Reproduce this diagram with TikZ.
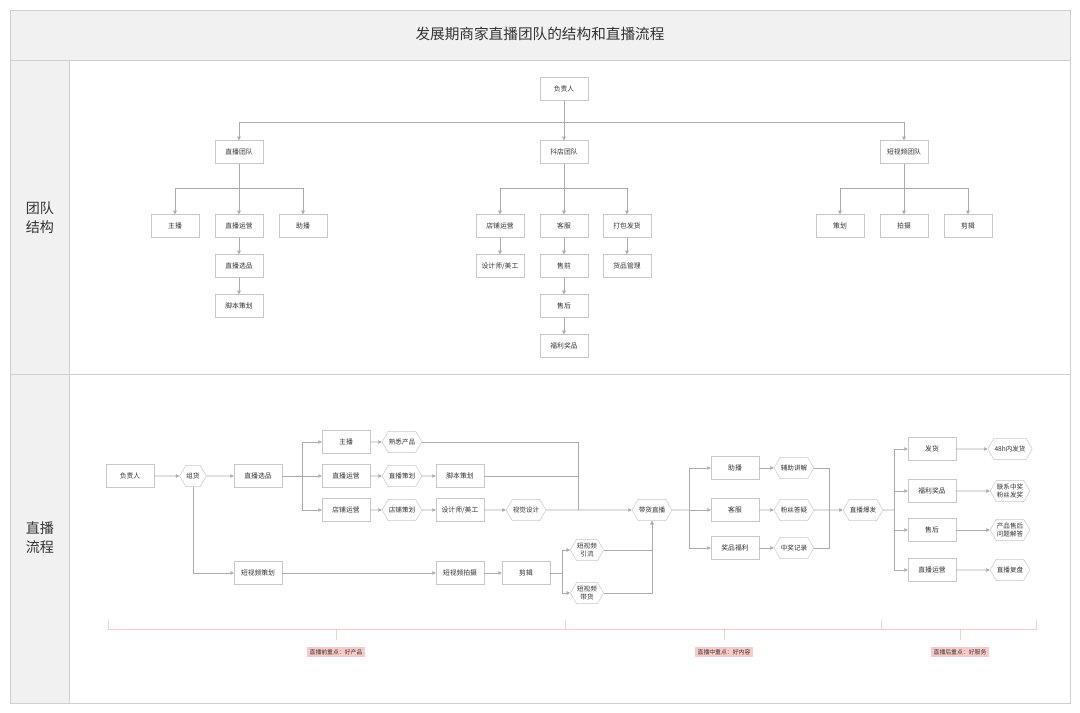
\documentclass[tikz,border=0pt]{standalone}
\usepackage{fontspec}
\setmainfont{Noto Sans CJK SC}
\usepackage{xcolor}
\usetikzlibrary{arrows.meta, shapes.symbols}
\definecolor{framegray}{HTML}{CFCFCF}
\definecolor{bandgray}{HTML}{F1F1F1}
\definecolor{boxgray}{HTML}{C8C8C8}
\definecolor{linegray}{HTML}{ABABAB}
\definecolor{textgray}{HTML}{333333}
\definecolor{tagpink}{HTML}{F9CACA}
\definecolor{brkpink}{HTML}{F5CFCF}

\begin{document}
\begin{tikzpicture}[x=0.03cm, y=-0.03cm,
    box/.style={draw=boxgray, fill=white, minimum width=1.44cm, minimum height=0.69cm,
      inner sep=1pt, text=textgray, font=\fontsize{5.8}{7}\selectfont},
    hexa/.style={signal, signal to=east and west, signal pointer angle=120,
      draw=boxgray, fill=white, minimum height=0.64cm, inner xsep=0.5pt, inner ysep=1pt,
      align=center, text=textgray, font=\fontsize{5.6}{6.4}\selectfont},
    link/.style={draw=linegray, line width=0.5pt},
    arr/.style={link, -{Triangle[length=3pt,width=3pt]}},
    brk/.style={draw=brkpink, line width=0.6pt},
    tag/.style={fill=tagpink, inner xsep=2pt, inner ysep=1.6pt, text=textgray,
      font=\fontsize{5}{6}\selectfont},
    side/.style={align=center, text=textgray, font=\fontsize{12}{16}\selectfont},
    title/.style={text=textgray, font=\fontsize{12.5}{14}\selectfont}]

        \useasboundingbox (0,0) rectangle (1080,713);

        % Frame, title band and row headers
        \fill[bandgray] (10,10) rectangle (1070,60);
        \fill[bandgray] (10,60) rectangle (69,703);
        \draw[framegray] (10,10) rectangle (1070,703);
        \draw[framegray] (10,60) -- (1070,60);
        \draw[framegray] (69,60) -- (69,703);
        \draw[framegray] (10,374) -- (1070,374);
        \node[title] (head) at (540,34) {发展期商家直播团队的结构和直播流程};
        \node[side] (rowA) at (40,218) {团队\\结构};
        \node[side] (rowB) at (40,538) {直播\\流程};

        % Team structure: top level
        \node[box] (lead) at (564,89) {负责人};
        \node[box] (liveT) at (239,152) {直播团队};
        \node[box] (shopT) at (564,152) {抖店团队};
        \node[box] (vidT) at (904,152) {短视频团队};
        \coordinate (barA) at (564,122);
        \draw[arr] (lead) -- (shopT);
        \draw[arr] (barA) -| (liveT.north);
        \draw[arr] (barA) -| (vidT.north);

        % Live team
        \node[box] (anchor) at (175,226) {主播};
        \node[box] (liveOps) at (239,226) {直播运营};
        \node[box] (assist) at (303,226) {助播};
        \node[box] (pick) at (239,266) {直播选品};
        \node[box] (script) at (239,306) {脚本策划};
        \coordinate (barB) at (239,188);
        \draw[arr] (liveT) -- (liveOps);
        \draw[arr] (barB) -| (anchor.north);
        \draw[arr] (barB) -| (assist.north);
        \draw[arr] (liveOps) -- (pick);
        \draw[arr] (pick) -- (script);

        % Shop team
        \node[box] (shopOps) at (500,226) {店铺运营};
        \node[box] (service) at (564,226) {客服};
        \node[box] (pack) at (627,226) {打包发货};
        \node[box] (design) at (500,266) {设计师/美工};
        \node[box] (pre) at (564,266) {售前};
        \node[box] (post) at (564,306) {售后};
        \node[box] (gift) at (564,346) {福利奖品};
        \node[box] (goods) at (627,266) {货品管理};
        \coordinate (barC) at (564,188);
        \draw[arr] (shopT) -- (service);
        \draw[arr] (barC) -| (shopOps.north);
        \draw[arr] (barC) -| (pack.north);
        \draw[arr] (shopOps) -- (design);
        \draw[arr] (service) -- (pre);
        \draw[arr] (pre) -- (post);
        \draw[arr] (post) -- (gift);
        \draw[arr] (pack) -- (goods);

        % Short video team
        \node[box] (plan) at (840,226) {策划};
        \node[box] (shoot) at (904,226) {拍摄};
        \node[box] (edit) at (968,226) {剪辑};
        \coordinate (barD) at (904,188);
        \draw[arr] (vidT) -- (shoot);
        \draw[arr] (barD) -| (plan.north);
        \draw[arr] (barD) -| (edit.north);

        % Live flow: before the stream
        \node[box] (fLead) at (130,476) {负责人};
        \node[hexa] (fGroup) at (193,476) {组货};
        \node[box] (fPick) at (258,476) {直播选品};
        \node[box] (fAnchor) at (346,442) {主播};
        \node[box] (fOps) at (346,476) {直播运营};
        \node[box] (fShop) at (346,510) {店铺运营};
        \node[hexa] (fKnow) at (402,442) {熟悉产品};
        \node[hexa] (fPlan) at (402,476) {直播策划};
        \node[hexa] (fShopPlan) at (402,510) {店铺策划};
        \node[box] (fScript) at (460,476) {脚本策划};
        \node[box] (fDesign) at (460,510) {设计师/美工};
        \node[hexa] (fVisual) at (526,510) {视觉设计};
        \node[box] (fVPlan) at (258,573) {短视频策划};
        \node[box] (fShoot) at (460,573) {短视频拍摄};
        \node[box] (fEdit) at (526,573) {剪辑};
        \node[hexa] (fDrain) at (587,550) {短视频\\引流};
        \node[hexa] (fSell) at (587,593) {短视频\\带货};
        \coordinate (br1) at (302,476);
        \coordinate (mg1) at (578,510);
        \coordinate (br2) at (562,573);
        \draw[arr] (fLead) -- (fGroup);
        \draw[arr] (fGroup) -- (fPick);
        \draw[link] (fPick) -- (br1);
        \draw[arr] (br1) |- (fAnchor.west);
        \draw[arr] (br1) -- (fOps);
        \draw[arr] (br1) |- (fShop.west);
        \draw[arr] (fAnchor) -- (fKnow);
        \draw[arr] (fOps) -- (fPlan);
        \draw[arr] (fShop) -- (fShopPlan);
        \draw[arr] (fPlan) -- (fScript);
        \draw[arr] (fShopPlan) -- (fDesign);
        \draw[arr] (fDesign) -- (fVisual);
        \draw[link] (fKnow.east) -| (mg1);
        \draw[link] (fScript.east) -| (mg1);
        \draw[arr] (fGroup.south) |- (fVPlan.west);
        \draw[arr] (fVPlan) -- (fShoot);
        \draw[arr] (fShoot) -- (fEdit);
        \draw[link] (fEdit) -- (br2);
        \draw[arr] (br2) |- (fDrain.west);
        \draw[arr] (br2) |- (fSell.west);

        % Live flow: during the stream
        \node[hexa] (fSale) at (652,510) {带货直播};
        \node[box] (fHelp) at (735,468) {助播};
        \node[box] (fServ) at (735,510) {客服};
        \node[box] (fPrize) at (735,548) {奖品福利};
        \node[hexa] (fExplain) at (794,468) {辅助讲解};
        \node[hexa] (fQA) at (794,510) {粉丝答疑};
        \node[hexa] (fRecord) at (794,548) {中奖记录};
        \node[hexa] (fBurst) at (863,510) {直播爆发};
        \coordinate (br3) at (689,510);
        \coordinate (mg2) at (829,510);
        \draw[arr] (fVisual) -- (fSale);
        \draw[arr] (fDrain.east) -| (fSale.south);
        \draw[arr] (fSell.east) -| (fSale.south);
        \draw[link] (fSale) -- (br3);
        \draw[arr] (br3) |- (fHelp.west);
        \draw[arr] (br3) -- (fServ);
        \draw[arr] (br3) |- (fPrize.west);
        \draw[arr] (fHelp) -- (fExplain);
        \draw[arr] (fServ) -- (fQA);
        \draw[arr] (fPrize) -- (fRecord);
        \draw[link] (fExplain.east) -| (mg2);
        \draw[link] (fRecord.east) -| (mg2);
        \draw[arr] (fQA) -- (fBurst);

        % Live flow: after the stream
        \node[box] (fShip) at (932,449) {发货};
        \node[box] (fGift) at (932,491) {福利奖品};
        \node[box] (fAfter) at (932,530) {售后};
        \node[box] (fRun) at (932,570) {直播运营};
        \node[hexa] (fShip2) at (1010,449) {48h内发货};
        \node[hexa] (fGift2) at (1010,491) {联系中奖\\粉丝发奖};
        \node[hexa] (fAfter2) at (1010,530) {产品售后\\问题解答};
        \node[hexa] (fRun2) at (1010,570) {直播复盘};
        \coordinate (br4) at (894,510);
        \draw[link] (fBurst) -- (br4);
        \draw[arr] (br4) |- (fShip.west);
        \draw[arr] (br4) |- (fGift.west);
        \draw[arr] (br4) |- (fAfter.west);
        \draw[arr] (br4) |- (fRun.west);
        \draw[arr] (fShip) -- (fShip2);
        \draw[arr] (fGift) -- (fGift2);
        \draw[arr] (fAfter) -- (fAfter2);
        \draw[arr] (fRun) -- (fRun2);

        % Phase bracket and key points
        \draw[brk] (108,620) -- (108,629) -- (1036,629) -- (1036,620);
        \draw[brk] (565,620) -- (565,629);
        \draw[brk] (881,620) -- (881,629);
        \draw[brk] (336,629) -- (336,640);
        \draw[brk] (724,629) -- (724,640);
        \draw[brk] (960,629) -- (960,640);
        \node[tag] (tagA) at (336,652) {直播前重点：好产品};
        \node[tag] (tagB) at (724,652) {直播中重点：好内容};
        \node[tag] (tagC) at (960,652) {直播后重点：好服务};

    \end{tikzpicture}
\end{document}
